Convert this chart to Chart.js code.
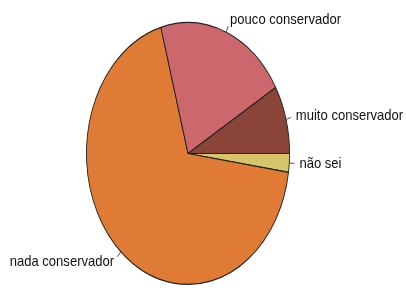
<!DOCTYPE html>
<html>
<head>
<meta charset="utf-8">
<script src="https://cdn.jsdelivr.net/npm/chart.js@4"></script>
<style>
html,body{margin:0;padding:0;background:#fff;}
#wrap{width:406px;height:288px;position:relative;}
</style>
</head>
<body>
<div id="wrap"><canvas id="c" width="406" height="288"></canvas></div>
<script>
// Data in R's order (counter-clockwise from 3 o'clock)
const categories = ['muito conservador', 'pouco conservador', 'nada conservador', 'não sei'];
const values = [8.4, 20.9, 68.4, 2.3];
const colors = ['#8A4538', '#CC686D', '#E07B36', '#D6C56B'];

// Chart.js draws clockwise; reverse so the screen layout matches
const cLabels = categories.slice().reverse();
const cValues = values.slice().reverse();
const cColors = colors.slice().reverse();

const VSCALE = 131.5 / 102; // vertical stretch of the pie (ellipse)
const FONT = '15px "Liberation Sans", Arial, sans-serif';
const TEXT_SX = 0.87; // condensed text look

const ellipsePlugin = {
  id: 'ellipse',
  beforeDatasetsDraw(chart) {
    const arc = chart.getDatasetMeta(0).data[0];
    const ctx = chart.ctx;
    ctx.save();
    ctx.translate(arc.x, arc.y);
    ctx.scale(1, VSCALE);
    ctx.translate(-arc.x, -arc.y);
  },
  afterDatasetsDraw(chart) {
    const ctx = chart.ctx;
    ctx.restore();
    const meta = chart.getDatasetMeta(0);
    meta.data.forEach((arc, i) => {
      const r = arc.outerRadius;
      const a = (arc.startAngle + arc.endAngle) / 2;
      const cs = Math.cos(a), sn = Math.sin(a);
      const px = k => arc.x + k * r * cs;
      const py = k => arc.y + k * r * sn * VSCALE;
      ctx.save();
      ctx.strokeStyle = '#555';
      ctx.lineWidth = 1;
      ctx.beginPath();
      ctx.moveTo(px(1.0), py(1.0));
      ctx.lineTo(px(1.05), py(1.05));
      ctx.stroke();
      ctx.font = FONT;
      ctx.textBaseline = 'middle';
      ctx.fillStyle = '#111';
      ctx.textAlign = cs >= 0 ? 'left' : 'right';
      ctx.translate(px(1.1), py(1.1));
      ctx.scale(TEXT_SX, 1);
      ctx.fillText(chart.data.labels[i], 0, 0);
      ctx.restore();
    });
  }
};

new Chart(document.getElementById('c'), {
  type: 'pie',
  data: {
    labels: cLabels,
    datasets: [{
      data: cValues,
      backgroundColor: cColors,
      borderColor: '#222',
      borderWidth: 0.9
    }]
  },
  options: {
    responsive: false,
    animation: false,
    rotation: 90,
    layout: { padding: { left: 86, right: 116, top: 51.5, bottom: 32.5 } },
    plugins: { legend: { display: false }, tooltip: { enabled: false } }
  },
  plugins: [ellipsePlugin]
});
</script>
</body>
</html>
